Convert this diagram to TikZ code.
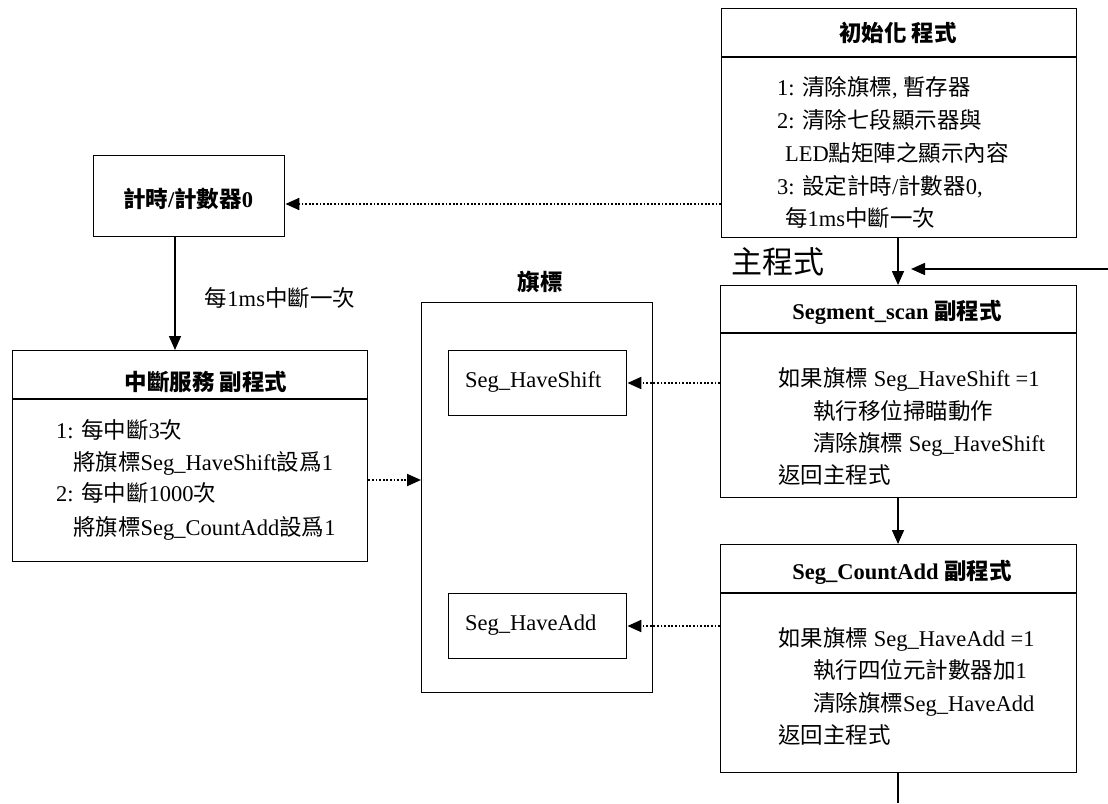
\documentclass[tikz,border=0pt]{standalone}
\usepackage{fontspec}
\setmainfont{Liberation Serif}
\newfontfamily\cjk{Noto Sans CJK TC}
\usetikzlibrary{arrows.meta}
\newcommand\zh[1]{{\cjk #1}}
\begin{document}
\begin{tikzpicture}[x=1pt,y=-1pt,
  frame/.style={draw, line width=1.4pt, inner sep=0pt, anchor=north west},
  txt/.style={anchor=west, inner sep=0pt, font=\fontsize{22.5}{27}\selectfont, text height=19.8pt, text depth=2.7pt},
  ttl/.style={txt, anchor=center, font=\fontsize{22.5}{27}\selectfont\bfseries},
  divline/.style={line width=1.4pt},
  solidarrow/.style={line width=1.6pt, -{Triangle[length=14pt,width=12pt]}},
  dotarrow/.style={line width=2pt, dash pattern=on 1.8pt off 1.8pt, -{Triangle[length=14pt,width=12pt]}},
]
\useasboundingbox (0,0) rectangle (1108,803);

% ---------- init box ----------
\node[frame, minimum width=355pt, minimum height=229pt] (init) at (721,8) {};
\draw[divline] (init.west |- 0,57) -- (init.east |- 0,57);
\node[ttl] (initt) at (898,33) {\zh{初始化 程式}};
\node[txt] (i1) at (777,87) {1: \zh{清除旗標}, \zh{暫存器}};
\node[txt] (i2) at (777,120) {2: \zh{清除七段顯示器與}};
\node[txt] (i3) at (785,153) {LED\zh{點矩陣之顯示內容}};
\node[txt] (i4) at (777,186) {3: \zh{設定計時}/\zh{計數器}0,};
\node[txt] (i5) at (785,218) {\zh{每}1ms\zh{中斷一次}};

% ---------- timer ----------
\node[frame, minimum width=191pt, minimum height=81pt] (tim) at (93,155) {};
\node[ttl] (timt) at (188,199) {\zh{計時}/\zh{計數器}0};

% ---------- ISR ----------
\node[frame, minimum width=355pt, minimum height=211pt] (isr) at (12,350) {};
\draw[divline] (isr.west |- 0,399) -- (isr.east |- 0,399);
\node[ttl] (isrt) at (206,382) {\zh{中斷服務 副程式}};
\node[txt] (r1) at (56,430) {1: \zh{每中斷}3\zh{次}};
\node[txt] (r2) at (73,462) {\zh{將旗標}Seg\_HaveShift\zh{設爲}1};
\node[txt] (r3) at (56,493) {2: \zh{每中斷}1000\zh{次}};
\node[txt] (r4) at (73,527) {\zh{將旗標}Seg\_CountAdd\zh{設爲}1};

% ---------- flags ----------
\node[ttl] (flagt) at (540,282) {\zh{旗標}};
\node[frame, minimum width=231pt, minimum height=390pt] (flags) at (421,302) {};
\node[frame, minimum width=178pt, minimum height=65pt] (fshift) at (448,350) {};
\node[txt] (fshiftt) at (465,379) {Seg\_HaveShift};
\node[frame, minimum width=178pt, minimum height=65pt] (fadd) at (448,593) {};
\node[txt] (faddt) at (465,622) {Seg\_HaveAdd};

% ---------- Segment_scan ----------
\node[frame, minimum width=356pt, minimum height=212pt] (seg) at (720,285) {};
\draw[divline] (seg.west |- 0,333) -- (seg.east |- 0,333);
\node[ttl] (segt) at (897,311) {Segment\_scan \zh{副程式}};
\node[txt] (s1) at (778,378) {\zh{如果旗標} Seg\_HaveShift =1};
\node[txt] (s2) at (813,411) {\zh{執行移位掃瞄動作}};
\node[txt] (s3) at (813,443) {\zh{清除旗標} Seg\_HaveShift};
\node[txt] (s4) at (778,475) {\zh{返回主程式}};

% ---------- Seg_CountAdd ----------
\node[frame, minimum width=356pt, minimum height=228pt] (cnt) at (720,544) {};
\draw[divline] (cnt.west |- 0,593) -- (cnt.east |- 0,593);
\node[ttl] (cntt) at (902,571) {Seg\_CountAdd \zh{副程式}};
\node[txt] (c1) at (778,638) {\zh{如果旗標} Seg\_HaveAdd =1};
\node[txt] (c2) at (813,670) {\zh{執行四位元計數器加}1};
\node[txt] (c3) at (813,703) {\zh{清除旗標}Seg\_HaveAdd};
\node[txt] (c4) at (778,735) {\zh{返回主程式}};

% ---------- main label ----------
\node[inner sep=0pt, font=\fontsize{31}{31}\selectfont] (mainlab) at (778,262) {\zh{主程式}};

% ---------- connectors ----------
\draw[dotarrow] (init.west |- 0,204) -- (tim.east |- 0,204);
\draw[solidarrow] (tim.south -| 175,0) -- (isr.north -| 175,0);
\node[txt, anchor=center] (ratelab) at (280,298) {\zh{每}1ms\zh{中斷一次}};
\draw[dotarrow] (isr.east |- 0,480) -- (flags.west |- 0,480);
\draw[dotarrow] (seg.west |- 0,383) -- (fshift.east |- 0,383);
\draw[dotarrow] (cnt.west |- 0,626) -- (fadd.east |- 0,626);
\draw[solidarrow] (init.south -| 898,0) -- (seg.north -| 898,0);
\coordinate (mstart) at (1108,269);
\coordinate (mend) at (911,269);
\draw[solidarrow] (mstart) -- (mend);
\draw[solidarrow] (seg.south -| 898,0) -- (cnt.north -| 898,0);
\coordinate (bot) at (898,803);
\draw[line width=1.6pt] (cnt.south -| bot) -- (bot);
\end{tikzpicture}
\end{document}
